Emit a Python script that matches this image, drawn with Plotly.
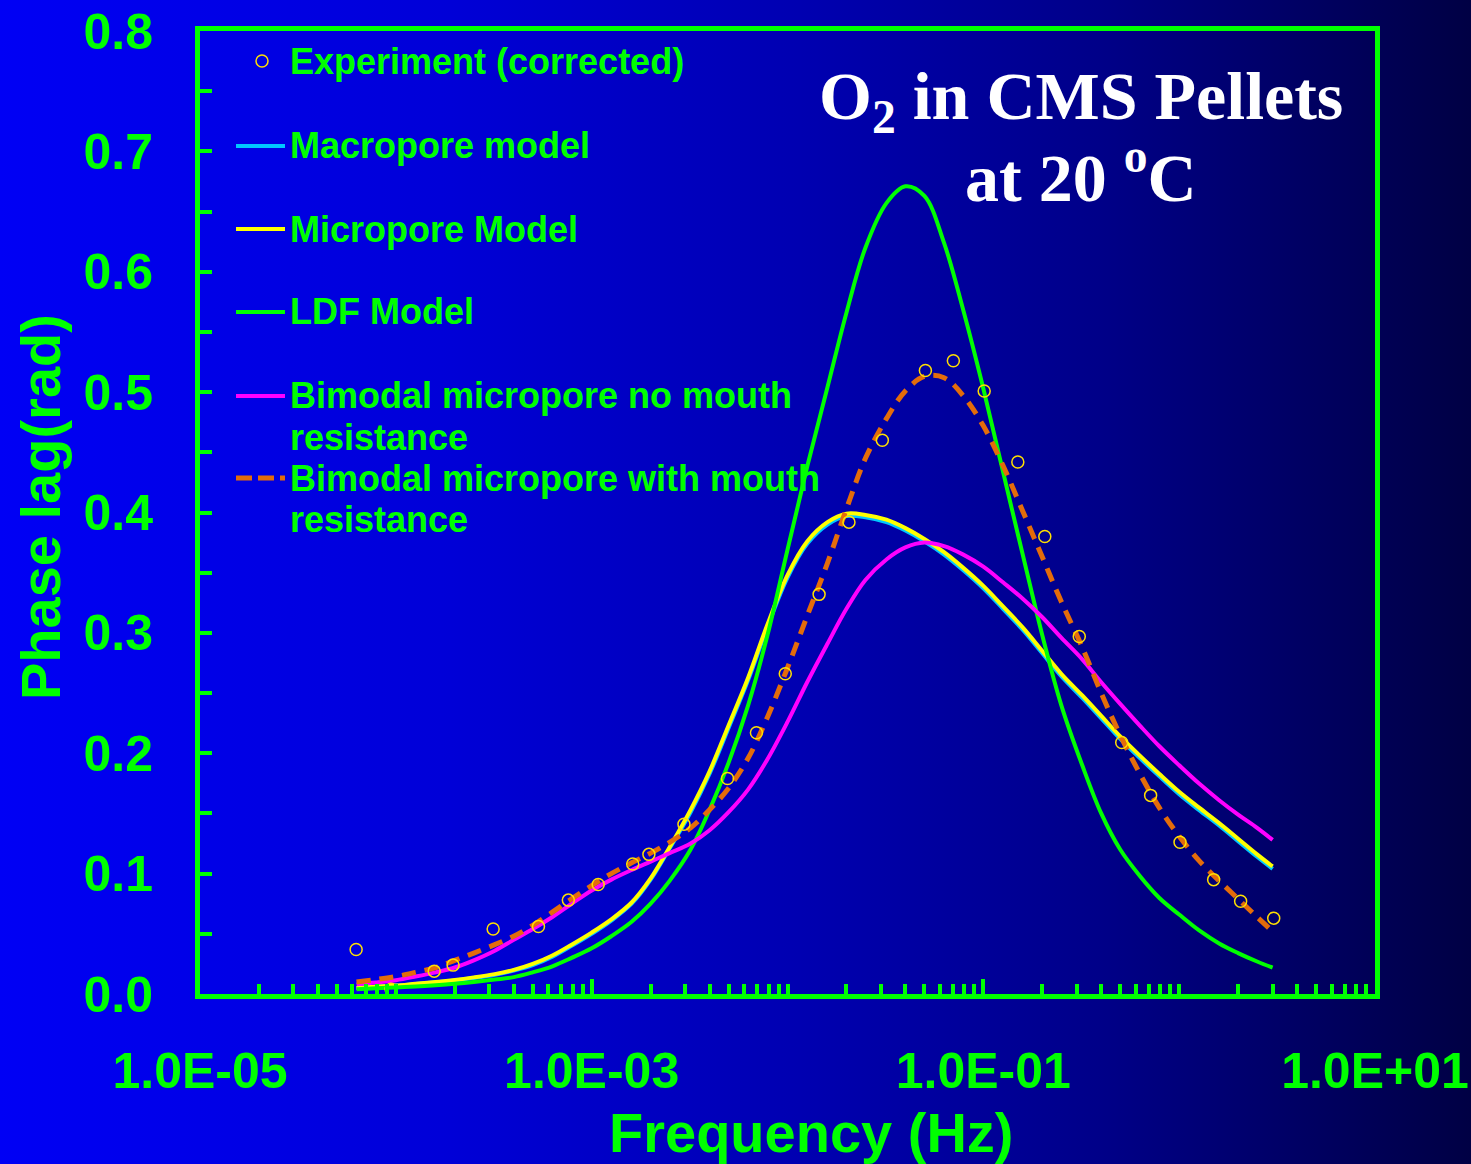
import base64
import plotly.graph_objects as go

# ---------------- data ----------------
# Experimental (corrected) phase lag
exp_freq_hz = [6.27e-5, 9.46e-5, 1.57e-4, 1.96e-4, 3.14e-4, 5.35e-4, 7.6e-4, 1.08e-3,
               1.62e-3, 1.96e-3, 2.96e-3, 4.94e-3, 6.94e-3, 9.74e-3, 1.45e-2, 2.06e-2,
               3.05e-2, 5.06e-2, 7.03e-2, 0.101, 0.150, 0.206, 0.309, 0.509, 0.715,
               1.01, 1.50, 2.06, 3.04]
exp_phase_lag = [0.037, 0.004, 0.019, 0.024, 0.054, 0.056, 0.078, 0.091, 0.108, 0.116,
                 0.141, 0.179, 0.217, 0.266, 0.332, 0.392, 0.460, 0.518, 0.526, 0.501,
                 0.442, 0.380, 0.297, 0.209, 0.165, 0.126, 0.095, 0.077, 0.063]

# Frequencies at which the model curves are evaluated
model_freq_hz = [6.3e-5, 7.9e-5, 1.0e-4, 1.26e-4, 1.6e-4, 2.0e-4, 2.5e-4, 3.2e-4, 4.0e-4, 5.0e-4,
                 6.3e-4, 7.9e-4, 1.0e-3, 1.26e-3, 1.6e-3, 2.0e-3, 2.5e-3, 3.2e-3, 4.0e-3, 5.0e-3,
                 6.3e-3, 7.9e-3, 1.0e-2, 1.26e-2, 1.6e-2, 2.0e-2, 2.5e-2, 3.2e-2, 4.0e-2, 5.0e-2,
                 6.3e-2, 7.9e-2, 0.10, 0.126, 0.16, 0.20, 0.25, 0.32, 0.40, 0.50,
                 0.63, 0.79, 1.0, 1.26, 1.6, 2.0, 2.5, 3.0]

macropore_model = [0.005, 0.006, 0.007, 0.0083, 0.0097, 0.0113, 0.0133, 0.016, 0.0195, 0.024,
                   0.031, 0.040, 0.050, 0.061, 0.075, 0.095, 0.121, 0.151, 0.183, 0.221,
                   0.261, 0.305, 0.346, 0.374, 0.390, 0.397, 0.396, 0.392, 0.385, 0.376,
                   0.365, 0.352, 0.337, 0.320, 0.302, 0.283, 0.264, 0.246, 0.229, 0.212,
                   0.196, 0.181, 0.166, 0.153, 0.140, 0.127, 0.114, 0.104]

micropore_model = [0.005, 0.006, 0.007, 0.0085, 0.010, 0.0117, 0.0138, 0.0165, 0.020, 0.025,
                   0.032, 0.041, 0.051, 0.062, 0.076, 0.096, 0.122, 0.153, 0.185, 0.223,
                   0.263, 0.307, 0.348, 0.376, 0.392, 0.399, 0.398, 0.394, 0.387, 0.378,
                   0.367, 0.354, 0.339, 0.322, 0.304, 0.285, 0.266, 0.248, 0.231, 0.214,
                   0.198, 0.183, 0.168, 0.155, 0.142, 0.129, 0.116, 0.106]

ldf_model = [0.004, 0.0047, 0.0055, 0.0063, 0.0073, 0.0085, 0.010, 0.012, 0.014, 0.018,
             0.023, 0.030, 0.038, 0.048, 0.060, 0.075, 0.094, 0.120, 0.153, 0.192,
             0.240, 0.298, 0.369, 0.438, 0.504, 0.566, 0.620, 0.657, 0.671, 0.663,
             0.624, 0.568, 0.503, 0.434, 0.363, 0.298, 0.240, 0.190, 0.150, 0.120,
             0.098, 0.080, 0.066, 0.053, 0.042, 0.034, 0.027, 0.022]

bimodal_no_mouth = [0.008, 0.0095, 0.0115, 0.0145, 0.018, 0.022, 0.028, 0.036, 0.045, 0.054,
                    0.064, 0.075, 0.086, 0.095, 0.103, 0.110, 0.117, 0.125, 0.136, 0.151,
                    0.170, 0.195, 0.226, 0.259, 0.291, 0.320, 0.344, 0.361, 0.371, 0.375,
                    0.372, 0.365, 0.355, 0.342, 0.328, 0.313, 0.296, 0.278, 0.259, 0.241,
                    0.223, 0.206, 0.190, 0.175, 0.161, 0.149, 0.138, 0.128]

bimodal_with_mouth = [0.010, 0.012, 0.0145, 0.018, 0.022, 0.028, 0.034, 0.041, 0.048, 0.057,
                      0.068, 0.079, 0.090, 0.100, 0.109, 0.117, 0.126, 0.138, 0.153, 0.171,
                      0.196, 0.230, 0.271, 0.314, 0.358, 0.403, 0.445, 0.478, 0.501, 0.513,
                      0.512, 0.497, 0.472, 0.439, 0.400, 0.363, 0.326, 0.288, 0.250, 0.215,
                      0.183, 0.155, 0.131, 0.111, 0.094, 0.079, 0.064, 0.052]

x_tick_values = [1e-5, 1e-3, 1e-1, 1e1]
x_tick_labels = ["1.0E-05", "1.0E-03", "1.0E-01", "1.0E+01"]
y_tick_values = [0.0, 0.1, 0.2, 0.3, 0.4, 0.5, 0.6, 0.7, 0.8]
y_tick_labels = ["0.0", "0.1", "0.2", "0.3", "0.4", "0.5", "0.6", "0.7", "0.8"]

# ---------------- styling ----------------
GREEN = "#00FF00"
CYAN = "#00C8FF"
YELLOW = "#FFFF00"
MAGENTA = "#FF00FF"
ORANGE = "#E46C0A"
MARKER = "#FFE000"
SANS = "Liberation Sans, Arial, sans-serif"
SERIF = "Liberation Serif, Times New Roman, serif"

W, H = 1471, 1164
M_L, M_R, M_T, M_B = 200, 96, 31, 170
PW = W - M_L - M_R
PH = H - M_T - M_B


def px(x):
    """page pixel column -> paper x"""
    return (x - M_L) / PW


def py(y):
    """page pixel row -> paper y"""
    return (H - M_B - y) / PH


# horizontal blue -> navy gradient used as the page background
stops = [(0.0, "#0000F5"), (0.3, "#0000D8"), (0.55, "#0000B0"), (0.75, "#000088"), (1.0, "#000044")]
stop_tags = "".join(f'<stop offset="{o}" stop-color="{c}"/>' for o, c in stops)
svg = (f'<svg xmlns="http://www.w3.org/2000/svg" width="{W}" height="{H}" preserveAspectRatio="none">'
       f'<defs><linearGradient id="g" x1="0" y1="0" x2="1" y2="0">{stop_tags}</linearGradient></defs>'
       f'<rect width="{W}" height="{H}" fill="url(#g)"/></svg>')
bg_src = "data:image/svg+xml;base64," + base64.b64encode(svg.encode()).decode()

fig = go.Figure()

curves = [
    ("Macropore model", macropore_model, CYAN, 4, "solid"),
    ("Micropore Model", micropore_model, YELLOW, 4, "solid"),
    ("LDF Model", ldf_model, GREEN, 4, "solid"),
    ("Bimodal micropore no mouth resistance", bimodal_no_mouth, MAGENTA, 4, "solid"),
    ("Bimodal micropore with mouth resistance", bimodal_with_mouth, ORANGE, 5, "14px,9px"),
]
for name, vals, color, width, dash in curves:
    fig.add_trace(go.Scatter(
        x=model_freq_hz, y=vals, mode="lines", name=name,
        line=dict(color=color, width=width, dash=dash, shape="spline", smoothing=1.0),
        showlegend=False,
    ))

fig.add_trace(go.Scatter(
    x=exp_freq_hz, y=exp_phase_lag, mode="markers", name="Experiment (corrected)",
    marker=dict(symbol="circle-open", size=12, color=MARKER, line=dict(color=MARKER, width=1.5)),
    cliponaxis=False, showlegend=False,
))

# minor ticks: every 1..9 x 10^n that is not a labelled decade
minor_x = [k * 10.0 ** n for n in range(-5, 1) for k in range(1, 10)]
minor_x = [v for v in minor_x if all(abs(v / t - 1) > 1e-6 for t in x_tick_values)]

tick_font = dict(family=SANS, size=50, color=GREEN, weight="bold")

fig.update_xaxes(
    type="log", range=[-5, 1], automargin=False,
    tickmode="array", tickvals=x_tick_values, ticktext=x_tick_labels,
    ticks="inside", ticklen=15, tickwidth=4, tickcolor=GREEN,
    showline=True, linewidth=5, linecolor=GREEN, mirror=True,
    showgrid=False, zeroline=False, tickfont=tick_font, ticklabelstandoff=29,
    minor=dict(tickmode="array", tickvals=minor_x, ticks="inside", ticklen=10,
               tickwidth=4, tickcolor=GREEN, showgrid=False),
)
fig.update_yaxes(
    range=[0, 0.8], automargin=False,
    tickmode="array", tickvals=y_tick_values, ticktext=y_tick_labels,
    ticks="inside", ticklen=12, tickwidth=4, tickcolor=GREEN,
    showline=True, linewidth=5, linecolor=GREEN, mirror=True,
    showgrid=False, zeroline=False, tickfont=tick_font, ticklabelstandoff=32,
    minor=dict(dtick=0.05, ticks="inside", ticklen=12, tickwidth=4,
               tickcolor=GREEN, showgrid=False),
)

annotations = []
shapes = []

# chart title
title_font = dict(family=SERIF, size=68, color="white", weight="bold")
annotations.append(dict(text="O<sub>2</sub> in CMS Pellets", x=px(1081), y=py(100),
                        xref="paper", yref="paper", xanchor="center", yanchor="middle",
                        showarrow=False, font=title_font))
annotations.append(dict(text="at 20 <sup>o</sup>C", x=px(1081), y=py(173),
                        xref="paper", yref="paper", xanchor="center", yanchor="middle",
                        showarrow=False, font=title_font))

# axis titles
axis_title_font = dict(family=SANS, size=56, color=GREEN, weight="bold")
annotations.append(dict(text="Frequency (Hz)", x=px(811), y=py(1132), xref="paper", yref="paper",
                        xanchor="center", yanchor="middle", showarrow=False, font=axis_title_font))
annotations.append(dict(text="Phase lag(rad)", x=px(40), y=py(507), xref="paper", yref="paper",
                        xanchor="center", yanchor="middle", textangle=-90, showarrow=False,
                        font=axis_title_font))

# legend, drawn as keys + labels inside the plot frame
legend_font = dict(family=SANS, size=36, color=GREEN, weight="bold")
legend_rows = [
    ("Experiment (corrected)", None, 62, None, None, None),
    ("Macropore model", None, 146, CYAN, 4, "solid"),
    ("Micropore Model", None, 229, YELLOW, 4, "solid"),
    ("LDF Model", None, 312, GREEN, 4, "solid"),
    ("Bimodal micropore no mouth", "resistance", 396, MAGENTA, 4, "solid"),
    ("Bimodal micropore with mouth", "resistance", 478, ORANGE, 5, "16px,6px"),
]
for label, label2, row_y, color, width, dash in legend_rows:
    annotations.append(dict(text=label, x=px(288), y=py(row_y), xref="paper", yref="paper",
                            xanchor="left", yanchor="middle", showarrow=False, font=legend_font))
    if label2:
        annotations.append(dict(text=label2, x=px(288), y=py(row_y + 41), xref="paper",
                                yref="paper", xanchor="left", yanchor="middle",
                                showarrow=False, font=legend_font))
    if color is None:
        shapes.append(dict(type="circle", xref="paper", yref="paper",
                           xsizemode="pixel", ysizemode="pixel",
                           xanchor=px(262), yanchor=py(row_y - 1), x0=-6, x1=6, y0=-6, y1=6,
                           line=dict(color=MARKER, width=1.5)))
    else:
        shapes.append(dict(type="line", xref="paper", yref="paper",
                           x0=px(236), x1=px(285), y0=py(row_y), y1=py(row_y),
                           line=dict(color=color, width=width, dash=dash)))

fig.update_layout(
    width=W, height=H,
    margin=dict(l=M_L, r=M_R, t=M_T, b=M_B, autoexpand=False),
    paper_bgcolor="#0000B0",
    plot_bgcolor="rgba(0,0,0,0)",
    showlegend=False,
    annotations=annotations,
    shapes=shapes,
    images=[dict(source=bg_src, xref="paper", yref="paper", x=px(0), y=py(0),
                 sizex=W / PW, sizey=H / PH, sizing="stretch",
                 xanchor="left", yanchor="top", layer="below")],
)

fig.write_html("out.html")
